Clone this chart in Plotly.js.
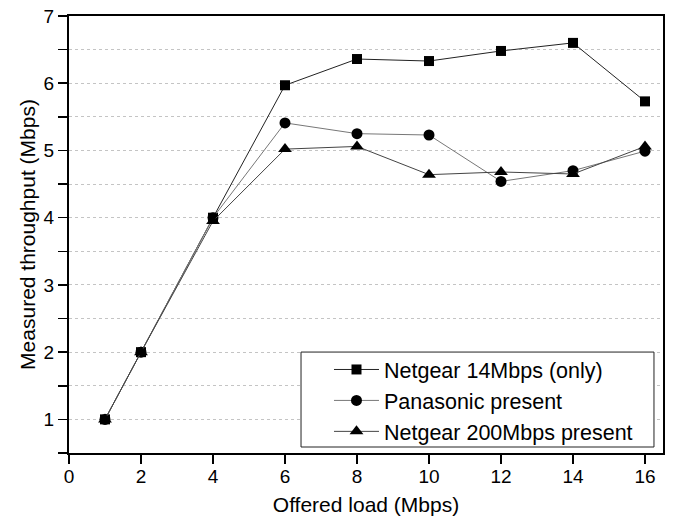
<!DOCTYPE html>
<html>
<head>
<meta charset="utf-8">
<script src="https://cdn.plot.ly/plotly-3.0.1.min.js"></script>
<style>html,body{margin:0;padding:0;background:#fff;}#chart{width:674px;height:518px;}</style>
</head>
<body>
<div id="chart"></div>
<script>
const offeredLoad = [1, 2, 4, 6, 8, 10, 12, 14, 16];
const netgear14Only = [1.0, 2.0, 4.0, 5.97, 6.36, 6.33, 6.48, 6.60, 5.73];
const panasonicPresent = [1.0, 2.0, 4.0, 5.41, 5.25, 5.23, 4.54, 4.70, 4.99];
const netgear200Present = [1.0, 2.0, 3.95, 5.02, 5.06, 4.64, 4.68, 4.65, 5.06];
const seriesNames = ["Netgear 14Mbps (only)", "Panasonic present", "Netgear 200Mbps present"];

const FONT = "Liberation Sans, Arial, sans-serif";
const traces = [
  {x: offeredLoad, y: netgear14Only, name: seriesNames[0], mode: "lines+markers",
   line: {color: "#222", width: 1}, marker: {symbol: "square", size: 10, color: "#000"}},
  {x: offeredLoad, y: panasonicPresent, name: seriesNames[1], mode: "lines+markers",
   line: {color: "#777", width: 1}, marker: {symbol: "circle", size: 11, color: "#000"}},
  {x: offeredLoad, y: netgear200Present, name: seriesNames[2], mode: "lines+markers",
   line: {color: "#444", width: 1}, marker: {symbol: "triangle-up", size: 12, color: "#000"}}
];

const layout = {
  width: 674, height: 518,
  margin: {l: 69, r: 11, t: 16, b: 65},
  paper_bgcolor: "#fff", plot_bgcolor: "#fff",
  font: {family: FONT, color: "#000", size: 19},
  showlegend: true,
  xaxis: {
    range: [0, 16.5], dtick: 2, tick0: 0,
    ticks: "outside", ticklen: 9, tickwidth: 1.5, tickcolor: "#000",
    showline: true, linewidth: 2, linecolor: "#000", mirror: true,
    showgrid: false, zeroline: false,
    tickfont: {size: 19, family: FONT}, ticklabelstandoff: -4,
    title: {text: "Offered load (Mbps)", font: {size: 21, family: FONT}, standoff: 12}
  },
  yaxis: {
    range: [0.5, 7], dtick: 1, tick0: 0,
    ticks: "outside", ticklen: 9, tickwidth: 1.5, tickcolor: "#000",
    showline: true, linewidth: 2, linecolor: "#000", mirror: true,
    showgrid: true, gridcolor: "#c4c4c4", griddash: "dot", gridwidth: 1,
    zeroline: false,
    minor: {dtick: 0.5, ticks: "outside", ticklen: 9, tickwidth: 1.5, tickcolor: "#000",
            showgrid: true, gridcolor: "#c4c4c4", griddash: "dot", gridwidth: 1},
    tickfont: {size: 19, family: FONT},
    title: {text: "Measured throughput (Mbps)", font: {size: 21, family: FONT}, standoff: 2}
  },
  shapes: [{
    type: "rect", xref: "paper", yref: "paper", layer: "above",
    x0: 0.3906, x1: 0.9848, y0: 0.0137, y1: 0.231,
    line: {color: "#222", width: 1}, fillcolor: "#fff"
  }],
  legend: {
    x: 0.3973, xanchor: "left", y: 0.0023, yanchor: "bottom",
    bgcolor: "rgba(0,0,0,0)", borderwidth: 0,
    font: {size: 21.5, family: FONT}, tracegroupgap: 0,
    indentation: 24, itemwidth: 45
  }
};

Plotly.newPlot("chart", traces, layout, {displayModeBar: false, staticPlot: true});
</script>
</body>
</html>
